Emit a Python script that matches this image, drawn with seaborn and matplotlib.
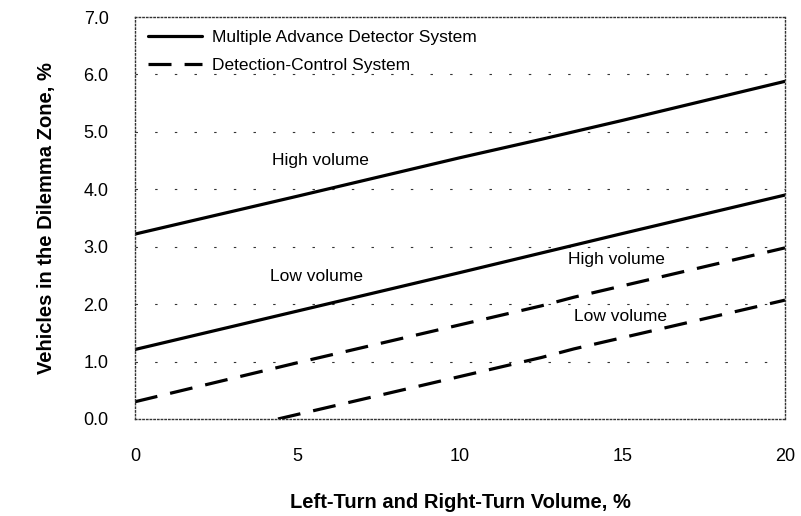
import pandas as pd
import matplotlib.pyplot as plt
import seaborn as sns
from matplotlib.lines import Line2D

# turning volume (%) vs vehicles in dilemma zone (%)
mads_x = [0, 5, 10, 12.5, 15, 20]
mads_high = [3.22, 3.88, 4.55, 4.87, 5.20, 5.88]
mads_low = [1.21, 1.88, 2.55, 2.89, 3.23, 3.90]

dcs_high_x = [0, 5, 12.5, 13.5, 20]
dcs_high = [0.30, 0.98, 1.97, 2.12, 2.98]
dcs_low_x = [4.4, 12.5, 13.5, 20]
dcs_low = [0.0, 1.07, 1.22, 2.07]

systems = ["Multiple Advance Detector System", "Detection-Control System"]

frames = [
    pd.DataFrame({"x": mads_x, "y": mads_high, "system": systems[0], "volume": "high"}),
    pd.DataFrame({"x": mads_x, "y": mads_low, "system": systems[0], "volume": "low"}),
    pd.DataFrame({"x": dcs_high_x, "y": dcs_high, "system": systems[1], "volume": "high"}),
    pd.DataFrame({"x": dcs_low_x, "y": dcs_low, "system": systems[1], "volume": "low"}),
]
df = pd.concat(frames, ignore_index=True)

sns.set_theme(style="white")
plt.rcParams["font.family"] = ["Liberation Sans", "DejaVu Sans"]
plt.rcParams["text.color"] = "black"
plt.rcParams["axes.labelcolor"] = "black"

fig = plt.figure(figsize=(8.01, 5.16), dpi=100)
ax = fig.add_axes([0.1685, 0.188, 0.8115, 0.779])

lw = 2.3
dash = (7.2, 4.1)
sns.lineplot(data=df, x="x", y="y", style="system", units="volume",
             estimator=None, color="black", linewidth=lw,
             dashes={systems[0]: "", systems[1]: dash},
             legend=False, ax=ax)

# dotted horizontal grid
for yv in range(1, 7):
    ax.axhline(yv, color="#333333", lw=0.8, ls=(0, (2.2, 15.5)), zorder=0)

ax.set_xlim(0, 20)
ax.set_ylim(0, 7)
ax.set_xticks([0, 5, 10, 15, 20])
ax.set_yticks(range(0, 8))
ax.set_yticklabels([f"{v:.1f}" for v in range(0, 8)])
ax.tick_params(axis="both", length=0, labelsize=13, colors="black")
ax.tick_params(axis="x", pad=21)
ax.tick_params(axis="y", pad=19)

for s in ax.spines.values():
    s.set_linestyle(":")
    s.set_linewidth(1.0)
    s.set_color("#333333")

ax.set_xlabel("Left-Turn and Right-Turn Volume, %", fontsize=14.5,
              fontweight="bold", labelpad=20)
ax.set_ylabel("Vehicles in the Dilemma Zone, %", fontsize=14.5,
              fontweight="bold", labelpad=20)

# legend
handles = [Line2D([], [], color="black", lw=lw),
           Line2D([], [], color="black", lw=lw, dashes=dash)]
ax.legend(handles, systems, loc="upper left", frameon=False, fontsize=12.5,
          handlelength=3.1, borderaxespad=0.35, labelspacing=0.75,
          bbox_to_anchor=(0.0, 1.0), handletextpad=0.6)

# annotations
ax.text(5.7, 4.5, "High volume", fontsize=12.5, ha="center", va="center")
ax.text(5.6, 2.49, "Low volume", fontsize=12.5, ha="center", va="center")
ax.text(14.8, 2.77, "High volume", fontsize=12.5, ha="center", va="center")
ax.text(14.95, 1.79, "Low volume", fontsize=12.5, ha="center", va="center")

fig.savefig("out.png", dpi=100)
